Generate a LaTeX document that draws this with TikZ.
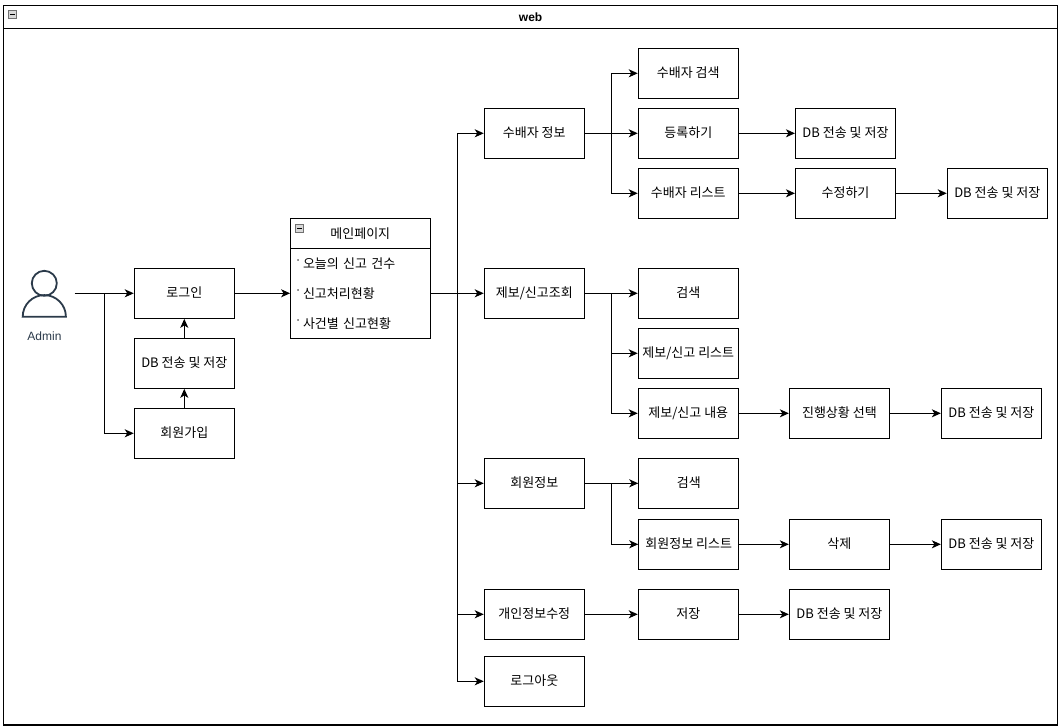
\documentclass[tikz,border=0pt]{standalone}
\usepackage{fontspec}
\setmainfont{Noto Sans CJK KR}
\newfontfamily\latinfont{Liberation Sans}
\usetikzlibrary{arrows.meta,positioning,calc}
\definecolor{actorink}{HTML}{2B3A4A}
\definecolor{iconfill}{HTML}{D8D8D8}
\definecolor{iconedge}{HTML}{707070}
\tikzset{
  boxnode/.style={draw=black,line width=1.1pt,fill=white,minimum width=100pt,minimum height=50pt,inner sep=0pt,
    text height=10pt,text depth=1.2pt,font=\fontsize{13}{15}\selectfont},
  rownode/.style={inner ysep=0pt,inner xsep=3pt,text width=134pt,align=left,minimum height=30pt,
    text height=11pt,text depth=1pt,font=\fontsize{13}{15}\selectfont},
  headnode/.style={draw=black,line width=1.1pt,inner sep=0pt,text height=11pt,text depth=1pt,font=\fontsize{13}{15}\selectfont},
  iconnode/.style={draw=iconedge,fill=iconfill,line width=0.6pt,minimum size=8pt,inner sep=0pt},
  arr/.style={draw=black,line width=1.1pt,-{Stealth[length=9pt,width=8pt,inset=2.5pt]}},
}
\newcommand{\rowdot}{\makebox[9.7pt][c]{\raisebox{3.5pt}{\fontsize{11}{11}\selectfont ·}}}
\begin{document}
\begin{tikzpicture}[x=1pt,y=-1pt]
\useasboundingbox (0,0) rectangle (1061,728);
% frame
\node[draw=black,line width=1.1pt,minimum width=1054.2pt,minimum height=719.7pt,inner sep=0pt] (frame) at (530.6,365.15) {};
\node[headnode,minimum width=1054.2pt,minimum height=23pt,font=\latinfont\bfseries\fontsize{12}{14}\selectfont] (framehead) at (530.6,16.8) {web};
\node[iconnode] (frameicon) at (12.5,14.7) {};
\draw[line width=0.8pt] ([xshift=1.8pt]frameicon.west) -- ([xshift=-1.8pt]frameicon.east);
% actor
\node[minimum width=60pt,minimum height=50pt,inner sep=0pt] (actor) at (44.3,293.3) {};
\draw[actorink,line width=1.8pt] (44.3,283.3) circle[radius=12.5pt];
\draw[actorink,line width=1.8pt] (22.7,316.7) arc[start angle=180,end angle=0,radius=21.6pt] -- cycle;
\node[text=actorink,font=\latinfont\fontsize{12}{14}\selectfont] (admin) at (44.5,336.7) {Admin};
% left column
\node[boxnode] (login) at (184.3,293.3) {로그인};
\node[boxnode] (dba) at (184.3,363.3) {DB 전송 및 저장};
\node[boxnode] (join) at (184.3,433.3) {회원가입};
% main page
\node[headnode,minimum width=140pt,minimum height=30pt] (mainhead) at (360.3,233.3) {메인페이지};
\node[draw=black,line width=1.1pt,minimum width=140pt,minimum height=90pt,inner sep=0pt] (mainbody) at (360.3,293.3) {};
\node[iconnode] (mainicon) at (299.7,227.9) {};
\draw[line width=0.8pt] ([xshift=1.8pt]mainicon.west) -- ([xshift=-1.8pt]mainicon.east);
\node[rownode] (rowa) at (360.3,263.3) {\rowdot 오늘의 신고 건수};
\node[rownode] (rowb) at (360.3,293.3) {\rowdot 신고처리현황};
\node[rownode] (rowc) at (360.3,323.3) {\rowdot 사건별 신고현황};
% second column
\node[boxnode] (sup) at (534.3,133.3) {수배자 정보};
\node[boxnode] (rep) at (534.3,293.3) {제보/신고조회};
\node[boxnode] (mem) at (534.3,483.3) {회원정보};
\node[boxnode] (pro) at (534.3,614.3) {개인정보수정};
\node[boxnode] (out) at (534.3,681.3) {로그아웃};
% third column
\node[boxnode] (supa) at (688.3,73.3) {수배자 검색};
\node[boxnode] (supb) at (688.3,133.3) {등록하기};
\node[boxnode] (supc) at (688.3,193.3) {수배자 리스트};
\node[boxnode] (repa) at (688.3,293.3) {검색};
\node[boxnode] (repb) at (688.3,353.3) {제보/신고 리스트};
\node[boxnode] (repc) at (688.3,413.3) {제보/신고 내용};
\node[boxnode] (mema) at (688.8,483.3) {검색};
\node[boxnode] (memb) at (688.8,544.3) {회원정보 리스트};
\node[boxnode] (proa) at (688.3,614.3) {저장};
% fourth column
\node[boxnode] (supbb) at (845.5,133.3) {DB 전송 및 저장};
\node[boxnode] (supcb) at (845.5,193.3) {수정하기};
\node[boxnode] (repcb) at (839.4,413.3) {진행상황 선택};
\node[boxnode] (membb) at (839.4,544.3) {삭제};
\node[boxnode] (prob) at (839.4,614.3) {DB 전송 및 저장};
% fifth column
\node[boxnode] (supcc) at (997.3,193.3) {DB 전송 및 저장};
\node[boxnode] (repcc) at (991.4,413.3) {DB 전송 및 저장};
\node[boxnode] (membc) at (991.4,544.3) {DB 전송 및 저장};
% branch points
\coordinate (actorbr) at (104.3,293.3);
\coordinate (trunk) at (457.4,293.3);
\coordinate (supbr) at (611.5,133.3);
\coordinate (repbr) at (611.5,293.3);
\coordinate (membr) at (611.5,483.3);
% connectors
\draw[arr] (actor.east) -- (login.west);
\draw[arr] (actorbr) |- (join.west);
\draw[arr] (join.north) -- (dba.south);
\draw[arr] (dba.north) -- (login.south);
\draw[arr] (login.east) -- (rowb.west);
\draw[arr] (rowb.east) -- (rep.west);
\draw[arr] (trunk) |- (sup.west);
\draw[arr] (trunk) |- (mem.west);
\draw[arr] (trunk) |- (pro.west);
\draw[arr] (trunk) |- (out.west);
\draw[arr] (sup.east) -- (supb.west);
\draw[arr] (supbr) |- (supa.west);
\draw[arr] (supbr) |- (supc.west);
\draw[arr] (supb.east) -- (supbb.west);
\draw[arr] (supc.east) -- (supcb.west);
\draw[arr] (supcb.east) -- (supcc.west);
\draw[arr] (rep.east) -- (repa.west);
\draw[arr] (repbr) |- (repb.west);
\draw[arr] (repbr) |- (repc.west);
\draw[arr] (repc.east) -- (repcb.west);
\draw[arr] (repcb.east) -- (repcc.west);
\draw[arr] (mem.east) -- (mema.west);
\draw[arr] (membr) |- (memb.west);
\draw[arr] (memb.east) -- (membb.west);
\draw[arr] (membb.east) -- (membc.west);
\draw[arr] (pro.east) -- (proa.west);
\draw[arr] (proa.east) -- (prob.west);
\end{tikzpicture}
\end{document}
